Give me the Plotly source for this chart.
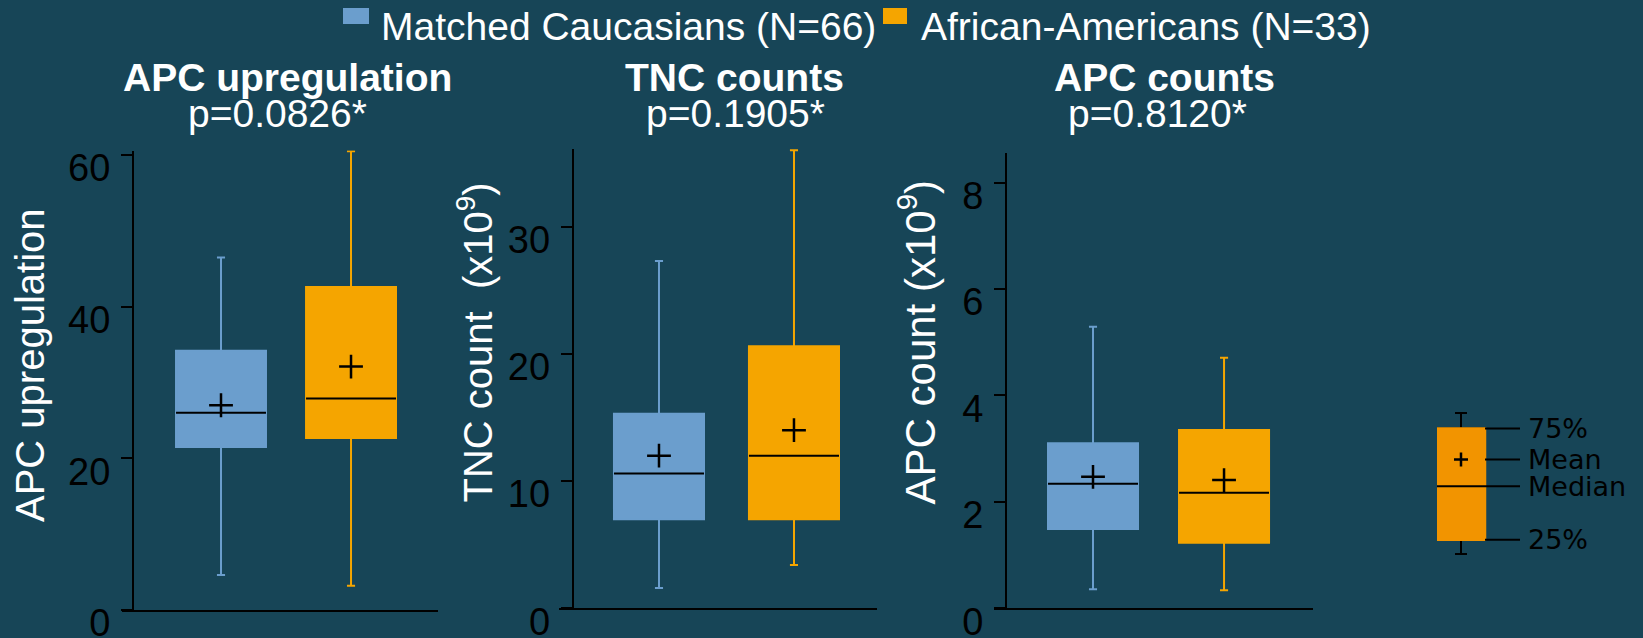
import plotly.graph_objects as go

W, H = 1643, 638
BG = "#174557"
BLUE = "#6B9ECD"
ORANGE = "#F5A500"
KEY_ORANGE = "#F29400"

# ---------------- data ----------------
groups = ["Matched Caucasians (N=66)", "African-Americans (N=33)"]
group_colors = [BLUE, ORANGE]
panel_titles = ["APC upregulation", "TNC counts", "APC counts"]
p_values = ["p=0.0826*", "p=0.1905*", "p=0.8120*"]
y_titles = ["APC upregulation", "TNC count  (x10<sup>9</sup>)", "APC count (x10<sup>9</sup>)"]
y_ticks = [[0, 20, 40, 60], [0, 10, 20, 30], [0, 2, 4, 6, 8]]

# per panel: [Caucasians, African-Americans]
lower_whisker = [[4.6, 3.2], [1.6, 3.4], [0.36, 0.34]]
q1_values = [[21.5, 22.7], [7.0, 7.0], [1.49, 1.23]]
median_values = [[26.0, 27.9], [10.6, 12.0], [2.34, 2.17]]
q3_values = [[34.2, 42.6], [15.3, 20.6], [3.10, 3.35]]
upper_whisker = [[46.5, 60.5], [27.3, 36.0], [5.29, 4.71]]
mean_values = [[27.0, 32.1], [12.0, 14.0], [2.47, 2.41]]

key_labels = ["75%", "Mean", "Median", "25%"]
key_lower, key_q1, key_median, key_mean, key_q3, key_upper = 0.0, 1.0, 4.8, 6.7, 8.9, 10.0

# ---------------- layout geometry (pixels) ----------------
x_dom_px = [(122, 438), (559, 877), (994, 1313)]
y_axis_px = [133, 572.7, 1006]
y_dom_px = [(610, 150.5), (608.3, 149.1), (608.3, 153.3)]
x_ranges = [[-0.7615, 1.669], [-0.7407, 1.615], [-0.7557, 1.679]]
y_ranges = [[0, 60.6], [0, 36.1], [0, 8.55]]
box_w = [0.692, 0.667, 0.687]


def px(x):
    return x / W


def py(y):
    return 1 - y / H


fig = go.Figure()
layout = dict(
    width=W, height=H,
    margin=dict(l=0, r=0, t=0, b=0, autoexpand=False),
    paper_bgcolor=BG, plot_bgcolor=BG,
    showlegend=False,
    font=dict(family="Liberation Sans, Arial, sans-serif", color="black"),
)
annotations = []
shapes = []

for p in range(3):
    xa = "x" if p == 0 else f"x{p+1}"
    ya = "y" if p == 0 else f"y{p+1}"
    xkey = "xaxis" if p == 0 else f"xaxis{p+1}"
    ykey = "yaxis" if p == 0 else f"yaxis{p+1}"
    for g in range(2):
        fig.add_trace(go.Box(
            x=[g], q1=[q1_values[p][g]], median=[median_values[p][g]],
            q3=[q3_values[p][g]], lowerfence=[lower_whisker[p][g]],
            upperfence=[upper_whisker[p][g]],
            width=box_w[p], whiskerwidth=0.09,
            fillcolor=group_colors[g], line=dict(color=group_colors[g], width=2),
            boxpoints=False, name=groups[g], xaxis=xa, yaxis=ya, hoverinfo="skip",
        ))
        # median line (black)
        fig.add_trace(go.Scatter(
            x=[g - box_w[p] / 2, g + box_w[p] / 2],
            y=[median_values[p][g]] * 2, mode="lines",
            line=dict(color="black", width=2), xaxis=xa, yaxis=ya, hoverinfo="skip",
        ))
        # mean marker
        fig.add_trace(go.Scatter(
            x=[g], y=[mean_values[p][g]], mode="markers",
            marker=dict(symbol="cross-thin", size=17, line=dict(color="black", width=2.5)),
            xaxis=xa, yaxis=ya, hoverinfo="skip",
        ))
    layout[xkey] = dict(
        domain=[px(x_dom_px[p][0]), px(x_dom_px[p][1])], range=x_ranges[p],
        anchor=ya, showline=True, linecolor="black", linewidth=2, automargin=False,
        showticklabels=False, ticks="", showgrid=False, zeroline=False, fixedrange=True,
    )
    layout[ykey] = dict(
        domain=[py(y_dom_px[p][0]), py(y_dom_px[p][1])], range=y_ranges[p],
        anchor="free", position=px(y_axis_px[p]), automargin=False,
        showline=True, linecolor="black", linewidth=2,
        ticks="outside", ticklen=11, tickwidth=2, tickcolor="black",
        tickvals=y_ticks[p], ticklabelshift=13, ticklabelstandoff=3,
        ticklabeloverflow="allow",
        tickfont=dict(size=38, color="black"),
        showgrid=False, zeroline=False, fixedrange=True,
    )

# titles
title_cx = [287, 734, 1164]
p_cx = [277, 735, 1157]
for p in range(3):
    annotations.append(dict(
        text=f"<b>{panel_titles[p]}</b>", x=px(title_cx[p]), y=py(77),
        xref="paper", yref="paper", xanchor="center", yanchor="middle",
        showarrow=False, font=dict(size=39, color="white"),
    ))
    annotations.append(dict(
        text=p_values[p], x=px(p_cx[p]), y=py(113.3),
        xref="paper", yref="paper", xanchor="center", yanchor="middle",
        showarrow=False, font=dict(size=39, color="white"),
    ))

# y titles
yt_cx = [29.5, 475, 917]
yt_cy = [365.5, 342.5, 342.5]
yt_size = [40, 40, 42]
for p in range(3):
    annotations.append(dict(
        text=y_titles[p], x=px(yt_cx[p]), y=py(yt_cy[p]), textangle=-90,
        xref="paper", yref="paper", xanchor="center", yanchor="middle",
        showarrow=False, font=dict(size=yt_size[p], color="white"),
    ))

# legend (top)
leg_rect = [(343, 369), (883, 907)]
leg_text_x = [379, 919]
for g in range(2):
    shapes.append(dict(
        type="rect", xref="paper", yref="paper",
        x0=px(leg_rect[g][0]), x1=px(leg_rect[g][1]), y0=py(24), y1=py(8),
        fillcolor=group_colors[g], line=dict(width=0),
    ))
    annotations.append(dict(
        text=groups[g], x=px(leg_text_x[g]), y=py(26.7),
        xref="paper", yref="paper", xanchor="left", yanchor="middle",
        showarrow=False, font=dict(size=39, color="white"),
    ))

# key graphic (bottom right)
fig.add_trace(go.Box(
    x=[0.12], q1=[key_q1], median=[key_median], q3=[key_q3],
    lowerfence=[key_lower], upperfence=[key_upper], width=0.24, whiskerwidth=0.25,
    fillcolor=KEY_ORANGE, line=dict(color="black", width=2), boxpoints=False,
    xaxis="x4", yaxis="y4", hoverinfo="skip",
))
fig.add_trace(go.Box(
    x=[0.12], q1=[key_q1], median=[key_median], q3=[key_q3],
    lowerfence=[key_q1], upperfence=[key_q3], width=0.24, whiskerwidth=0.25,
    fillcolor=KEY_ORANGE, line=dict(color=KEY_ORANGE, width=2.5), boxpoints=False,
    xaxis="x4", yaxis="y4", hoverinfo="skip",
))
fig.add_trace(go.Scatter(
    x=[0.0, 0.24], y=[key_median] * 2, mode="lines",
    line=dict(color="black", width=2), xaxis="x4", yaxis="y4", hoverinfo="skip",
))
fig.add_trace(go.Scatter(
    x=[0.12], y=[key_mean], mode="markers",
    marker=dict(symbol="cross-thin", size=10, line=dict(color="black", width=2.5)),
    xaxis="x4", yaxis="y4", hoverinfo="skip",
))
key_levels = [key_q3, key_mean, key_median, key_q1]
for lab, lev in zip(key_labels, key_levels):
    fig.add_trace(go.Scatter(
        x=[0.24, 0.415], y=[lev, lev], mode="lines",
        line=dict(color="black", width=2), xaxis="x4", yaxis="y4", hoverinfo="skip",
    ))
    annotations.append(dict(
        text=lab, x=0.445, y=lev, xref="x4", yref="y4",
        xanchor="left", yanchor="middle", showarrow=False,
        font=dict(size=27, color="black", family="DejaVu Sans, Verdana, sans-serif"),
    ))

layout["xaxis4"] = dict(domain=[px(1437), px(1637)], range=[0, 1], visible=False,
                        anchor="y4", fixedrange=True, automargin=False)
layout["yaxis4"] = dict(domain=[py(561), py(406)], range=[-0.5, 10.5], visible=False,
                        anchor="x4", fixedrange=True, automargin=False)

layout["annotations"] = annotations
layout["shapes"] = shapes
fig.update_layout(**layout)

fig.write_html(
    "out.html",
    config={"displayModeBar": False},
    post_script="document.body.style.margin='0px';document.body.style.background='" + BG + "';",
)
